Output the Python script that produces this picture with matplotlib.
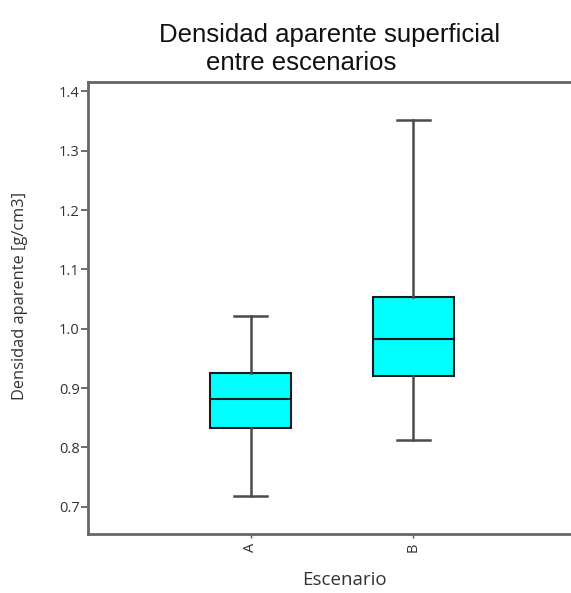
import matplotlib
matplotlib.use("Agg")
import matplotlib.pyplot as plt

# Five-number summaries per scenario (g/cm3)
categories = ["A", "B"]
whisker_low = [0.718, 0.812]
quartile_1 = [0.832, 0.920]
medians = [0.881, 0.982]
quartile_3 = [0.925, 1.053]
whisker_high = [1.022, 1.352]
y_ticks = [0.7, 0.8, 0.9, 1.0, 1.1, 1.2, 1.3, 1.4]

W, H = 571, 593
fig = plt.figure(figsize=(W / 100, H / 100), dpi=100)
ax = fig.add_axes([88 / W, 1 - 534 / H, (576 - 88) / W, (534 - 82) / H])

stats = [
    dict(label=c, whislo=lo, q1=a, med=m, q3=b, whishi=hi, fliers=[])
    for c, lo, a, m, b, hi in zip(categories, whisker_low, quartile_1,
                                  medians, quartile_3, whisker_high)
]
positions = list(range(1, len(categories) + 1))
ax.bxp(
    stats, positions=positions, widths=0.5, patch_artist=True,
    showfliers=False,
    boxprops=dict(facecolor="#00FFFF", edgecolor="#1a1a1a", linewidth=1.5),
    medianprops=dict(color="#1a1a1a", linewidth=1.5),
    whiskerprops=dict(color="#4a4a4a", linewidth=1.8),
    capprops=dict(color="#4a4a4a", linewidth=1.8),
    capwidths=0.2,
)

ax.set_xlim(0, 3)
ax.set_ylim(0.654, 1.416)
ax.set_yticks(y_ticks)
ax.set_yticklabels([f"{v:.1f}" for v in y_ticks])
ax.set_xticks(positions)
ax.set_xticklabels(categories, rotation=90)

for side in ("left", "top", "bottom"):
    ax.spines[side].set_color("#666666")
    ax.spines[side].set_linewidth(2)
ax.spines["right"].set_visible(False)

ax.tick_params(axis="y", direction="out", length=5, width=1.2, color="#555555",
               labelsize=10.5, labelcolor="#333333", pad=1)
ax.tick_params(axis="x", direction="out", length=3, width=1.0, color="#555555",
               labelsize=10.5, labelcolor="#333333", pad=3)
for lbl in ax.get_yticklabels() + ax.get_xticklabels():
    lbl.set_fontfamily("Open Sans")

fig.text(20 / W, 1 - 296 / H, "Densidad aparente [g/cm3]", rotation=90,
         ha="center", va="center", fontsize=11.8, color="#333333",
         family="Open Sans")
fig.text(344 / W, 1 - 580 / H, "Escenario", ha="center", va="center",
         fontsize=13.5, color="#333333", family="Open Sans")

fig.text(330 / W, 1 - 42 / H, "Densidad aparente superficial", ha="center",
         va="baseline", fontsize=18.5, color="#111111", family="Liberation Sans")
fig.text(301 / W, 1 - 70 / H, "entre escenarios", ha="center",
         va="baseline", fontsize=18.5, color="#111111", family="Liberation Sans")

fig.savefig("out.png", dpi=100)
